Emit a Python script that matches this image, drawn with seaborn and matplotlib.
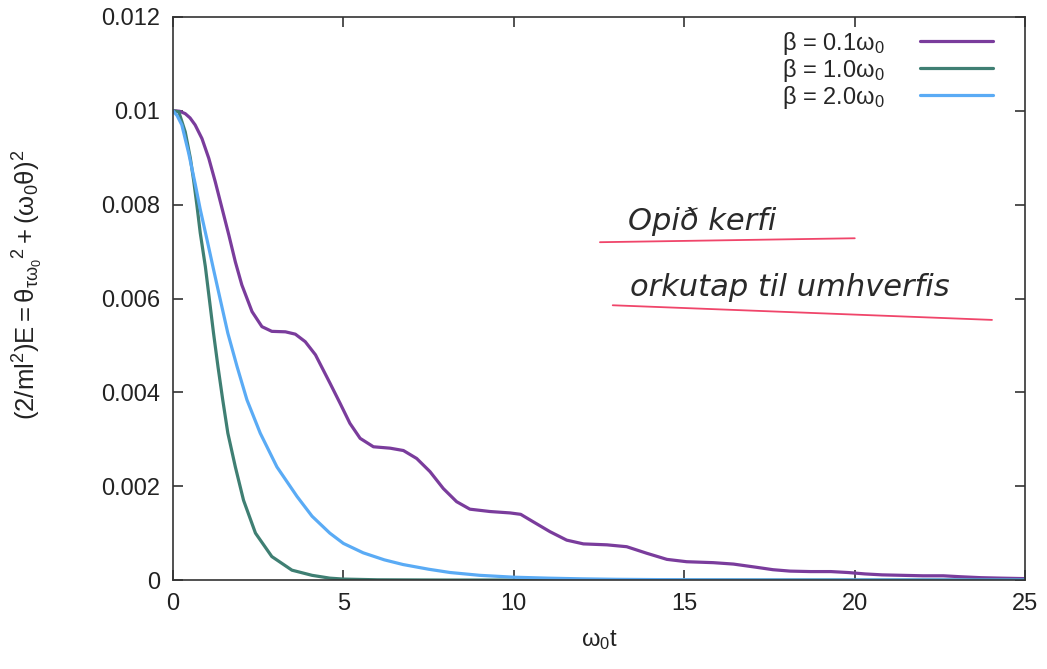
import numpy as np
import pandas as pd
import seaborn as sns
import matplotlib
matplotlib.use("Agg")
import matplotlib.pyplot as plt

# values
t_b01 = [0, 0.07, 0.2, 0.36, 0.5, 0.65, 0.85, 1.05, 1.24, 1.44, 1.64, 1.83, 2.02, 2.32, 2.61,
         2.9, 3.3, 3.59, 3.88, 4.18, 4.61, 4.9, 5.19, 5.49, 5.88, 6.37, 6.76, 7.15, 7.54, 7.93,
         8.32, 8.71, 9.3, 9.89, 10.2, 10.57, 11.06, 11.55, 12.04, 12.73, 13.31, 13.9, 14.49,
         15.07, 15.85, 16.44, 17.13, 17.6, 18.1, 18.7, 19.3, 19.8, 20.3, 20.8, 21.4, 22.0, 22.6,
         23.1, 23.7, 24.3, 25.0]
E_b01 = [0.0100, 0.0100, 0.00999, 0.00994, 0.00985, 0.0097, 0.00941, 0.00899, 0.00849, 0.00792,
         0.00735, 0.00678, 0.00629, 0.00572, 0.0054, 0.0053, 0.00529, 0.00524, 0.00508, 0.0048,
         0.00419, 0.00377, 0.00334, 0.00302, 0.00284, 0.00281, 0.00276, 0.00259, 0.00231,
         0.00195, 0.00167, 0.00151, 0.00146, 0.00143, 0.0014, 0.00124, 0.00103, 0.00085,
         0.00077, 0.00075, 0.00071, 0.00057, 0.00044, 0.00039, 0.00037, 0.00034, 0.00027,
         0.00022, 0.00019, 0.00018, 0.00018, 0.00016, 0.00013, 0.00011, 0.0001, 0.00009,
         0.00009, 0.00007, 0.00005, 0.00004, 0.00003]

t_b10 = [0, 0.17, 0.36, 0.51, 0.61, 0.7, 0.8, 0.95, 1.07, 1.19, 1.32, 1.46, 1.61, 1.83, 2.07,
         2.42, 2.9, 3.49, 4.08, 4.6, 5.0, 6.0, 8.0, 25.0]
E_b10 = [0.0100, 0.00998, 0.00955, 0.00899, 0.0085, 0.0080, 0.0074, 0.00668, 0.00597, 0.00526,
         0.00455, 0.00384, 0.00313, 0.00241, 0.0017, 0.0010, 0.0005, 0.00021, 0.0001, 0.00004,
         0.00002, 0.000005, 0, 0]

t_b20 = [0, 0.12, 0.26, 0.46, 0.65, 0.8, 1.0, 1.19, 1.39, 1.61, 1.88, 2.17, 2.56, 3.05, 3.64,
         4.08, 4.6, 5.0, 5.58, 6.2, 6.75, 7.5, 8.13, 9.0, 10.0, 11.0, 12.0, 13.0, 15.0, 18.0, 25.0]
E_b20 = [0.0100, 0.0099, 0.0097, 0.0091, 0.00845, 0.0079, 0.00725, 0.00662, 0.00597, 0.00526,
         0.00455, 0.00384, 0.00313, 0.00241, 0.00178, 0.00136, 0.00100, 0.00078, 0.00058,
         0.00043, 0.00033, 0.00023, 0.00016, 0.0001, 0.00006, 0.00004, 0.000025, 0.000015,
         0.000005, 0, 0]

labels = [r'$\beta$ = 0.1$\omega_0$', r'$\beta$ = 1.0$\omega_0$', r'$\beta$ = 2.0$\omega_0$']
colors = ['#7a3c9c', '#3f7f73', '#5aabf5']

df = pd.concat([
    pd.DataFrame({'t': t_b01, 'E': E_b01, 'beta': labels[0]}),
    pd.DataFrame({'t': t_b10, 'E': E_b10, 'beta': labels[1]}),
    pd.DataFrame({'t': t_b20, 'E': E_b20, 'beta': labels[2]}),
])

sns.set_style('ticks')
plt.rcParams['font.family'] = ['Liberation Sans', 'DejaVu Sans']
plt.rcParams['mathtext.default'] = 'regular'
plt.rcParams['mathtext.fontset'] = 'custom'
plt.rcParams['mathtext.rm'] = 'Liberation Sans'
plt.rcParams['mathtext.it'] = 'Liberation Sans'

fig = plt.figure(figsize=(10.47, 6.69), dpi=100)
ax = fig.add_axes([0.1652, 0.133, 0.814, 0.8416])

sns.lineplot(data=df, x='t', y='E', hue='beta', palette=dict(zip(labels, colors)),
             estimator=None, sort=False, linewidth=2.3, ax=ax)

ax.set_xlim(0, 25)
ax.set_ylim(0, 0.012)
ax.set_xticks([0, 5, 10, 15, 20, 25])
ax.set_yticks([0, 0.002, 0.004, 0.006, 0.008, 0.01, 0.012])
ax.set_yticklabels(['0', '0.002', '0.004', '0.006', '0.008', '0.01', '0.012'])
ax.tick_params(direction='in', top=True, right=True, length=7, width=1.1,
               labelsize=17, colors='#222222', pad=9)
for s in ax.spines.values():
    s.set_linewidth(1.2)
    s.set_color('#333333')

ax.set_xlabel(r'$\omega_0$t', fontsize=17, color='#222222', labelpad=10)
ax.set_ylabel(r'$(2/ml^2)E = \theta_{\tau\omega_0}{}^2 + (\omega_0\theta)^2$',
              fontsize=18.5, color='#222222')
ax.yaxis.set_label_coords(-0.15, 0.524)

leg = ax.legend(loc='upper right', bbox_to_anchor=(0.982, 1.007), frameon=False, fontsize=17,
                markerfirst=False, handlelength=3.1, labelspacing=0.0, borderaxespad=0.3,
                handletextpad=1.5)

# handwritten notes on the scan
ax.text(0.534, 0.637, 'Opið kerfi', transform=ax.transAxes, fontsize=22,
        family='DejaVu Sans', style='italic', color='#2a2a2a', va='center')
ax.text(0.536, 0.52, 'orkutap til umhverfis', transform=ax.transAxes, fontsize=22,
        family='DejaVu Sans', style='italic', color='#2a2a2a', va='center')
ax.plot([0.501, 0.800], [0.600, 0.607], transform=ax.transAxes, color='#f0456a', lw=1.3)
ax.plot([0.516, 0.961], [0.488, 0.462], transform=ax.transAxes, color='#f0456a', lw=1.3)

fig.savefig('out.png', dpi=100)
